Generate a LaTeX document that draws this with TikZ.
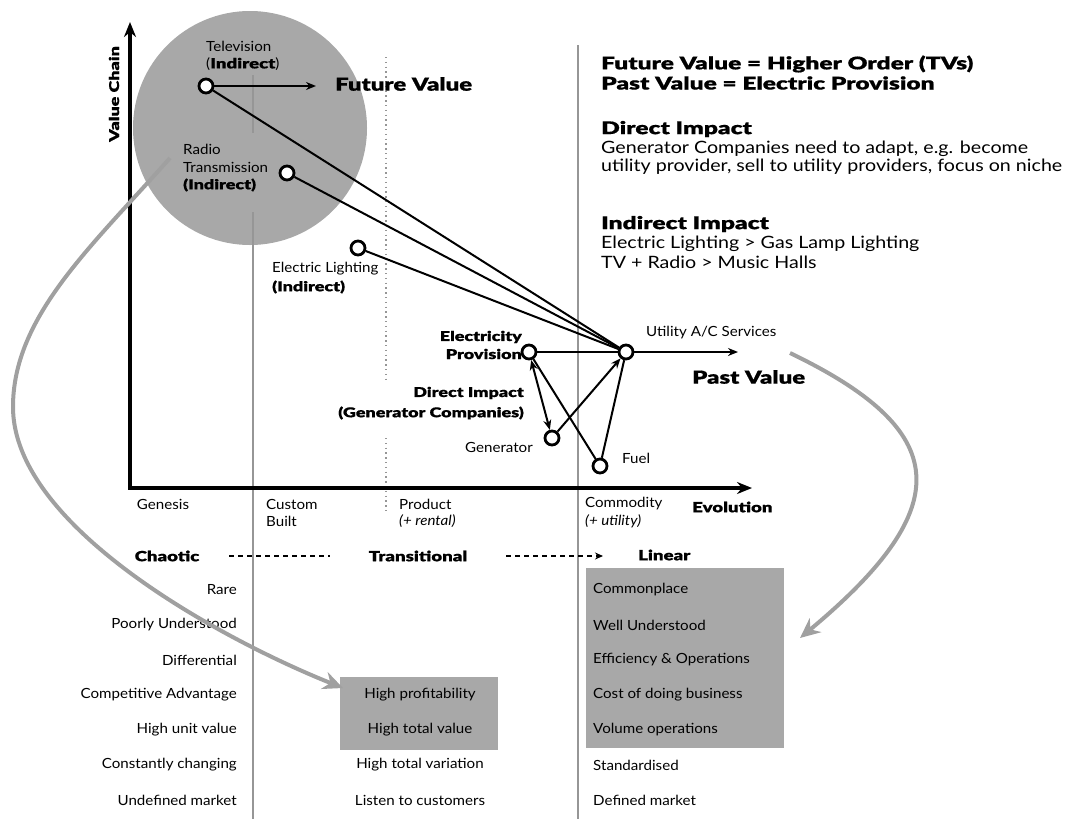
\documentclass[tikz,border=0pt]{standalone}
\usepackage{fontspec}
\setmainfont{Lato}[FakeStretch=1.08]
\newfontfamily\heavy{Lato Black}[FakeStretch=1.33,FakeBold=0.6]
\newfontfamily\rfont{Lato}[FakeStretch=1.155]
\newfontfamily\rheavy{Lato Black}[FakeStretch=1.4,FakeBold=0.6]
\usetikzlibrary{arrows.meta}
\definecolor{circgray}{RGB}{168,168,168}
\definecolor{linegray}{RGB}{150,150,150}
\definecolor{boxgray}{RGB}{168,168,168}
\definecolor{curvegray}{RGB}{160,160,160}
\begin{document}
\begin{tikzpicture}[x=1pt,y=-1pt,
  dot/.style={circle,draw=black,fill=white,line width=2.8pt,minimum size=14pt,inner sep=0pt},
  conn/.style={draw=black,line width=2pt},
  arr/.style={conn,-{Stealth[length=10pt,width=8pt]}},
  dbl/.style={conn,{Stealth[length=10pt,width=8pt]}-{Stealth[length=10pt,width=8pt]}},
  lbl/.style={inner sep=0pt,font=\fontsize{14}{16}\selectfont},
  blbl/.style={inner sep=0pt,font=\heavy\fontsize{13.5}{15}\selectfont},
  big/.style={inner sep=0pt,font=\heavy\fontsize{18}{20}\selectfont},
  row/.style={inner sep=0pt,font=\fontsize{14}{16}\selectfont},
  brow/.style={inner sep=0pt,font=\heavy\fontsize{14}{16}\selectfont},
  rtxt/.style={inner sep=0pt,anchor=west,font=\rfont\fontsize{17}{18}\selectfont},
  rhead/.style={inner sep=0pt,anchor=west,font=\rheavy\fontsize{17.5}{19}\selectfont},
  gline/.style={draw=linegray,line width=2pt},
  dotline/.style={draw=linegray,line width=1.3pt,dash pattern=on 1.3pt off 3.5pt},
  curve/.style={draw=curvegray,line width=4pt,-{Stealth[length=20pt,width=18pt]}},
  dashln/.style={draw=black,line width=1.6pt,dash pattern=on 5pt off 4pt}
]
\useasboundingbox (0,0) rectangle (1067,819);

% background circle
\fill[circgray] (250,128) circle[radius=117pt];

% vertical separators
\draw[gline] (253,75) -- (253,133);
\draw[gline] (253,212) -- (253,819);
\draw[gline] (578,45) -- (578,819);
\draw[dotline] (386,57) -- (386,380);
\draw[dotline] (386,438) -- (386,512);

% gray boxes
\fill[boxgray] (340,677) rectangle (498,750);
\fill[boxgray] (586,568) rectangle (784,748);

% axes
\coordinate (ytop) at (130,22);
\coordinate (orig) at (130,488);
\coordinate (xend) at (752,488);
\draw[line width=4pt,line join=miter,{Stealth[length=15pt,width=12pt]}-{Stealth[length=15pt,width=12pt]}] (ytop) -- (orig) -- (xend);
\node[blbl,rotate=90] (vc) at (114,94) {Value Chain};

% component nodes
\node[dot] (tv) at (206,86) {};
\node[dot] (radio) at (287,173) {};
\node[dot] (light) at (358,248) {};
\node[dot] (elec) at (529,352) {};
\node[dot] (util) at (626,352) {};
\node[dot] (gen) at (552,438) {};
\node[dot] (fuel) at (600,466) {};

% connectors
\draw[conn] (util) -- (tv);
\draw[conn] (util) -- (radio);
\draw[conn] (util) -- (light);
\draw[conn] (util) -- (elec);
\draw[conn] (elec) -- (fuel);
\draw[conn] (fuel) -- (util);
\draw[dbl] (elec) -- (gen);
\draw[arr] (gen) -- (util);
\coordinate (fvtip) at (316,86);
\draw[arr] (tv) -- (fvtip);
\coordinate (pvtip) at (738,352);
\draw[arr] (util) -- (pvtip);

% node labels
\node[lbl,anchor=west] (tvl1) at (206,46) {Television};
\node[lbl,anchor=west] (tvl2) at (206,64) {({\heavy Indirect})};
\node[big,anchor=west] (fv) at (335,84) {Future Value};
\node[lbl,anchor=west] (rl1) at (183,149) {Radio};
\node[lbl,anchor=west] (rl2) at (183,167) {Transmission};
\node[blbl,anchor=west] (rl3) at (183,185) {(Indirect)};
\node[lbl,anchor=west] (ll1) at (272,269) {Electric Lighting};
\node[blbl,anchor=west] (ll2) at (272,287) {(Indirect)};
\node[blbl,anchor=east] (el1) at (522,337) {Electricity};
\node[blbl,anchor=east] (el2) at (522,354) {Provision};
\node[blbl,anchor=east] (di1) at (524,393) {Direct Impact};
\node[blbl,anchor=east] (di2) at (524,413) {(Generator Companies)};
\node[lbl,anchor=east] (genl) at (533,447) {Generator};
\node[lbl,anchor=west] (fuell) at (622,458) {Fuel};
\node[lbl,anchor=west] (utill) at (646,333) {Utility A/C Services};
\node[big,anchor=west] (pv) at (692,377) {Past Value};

% evolution labels
\node[row] (gen1) at (163,504) {Genesis};
\node[row,anchor=west] (cb1) at (266,504) {Custom};
\node[row,anchor=west] (cb2) at (266,521) {Built};
\node[row,anchor=west] (pr1) at (399,504) {Product};
\node[row,anchor=west] (pr2) at (399,521) {\itshape (+ rental)};
\node[row,anchor=west] (co1) at (585,504) {Commodity};
\node[row,anchor=west] (co2) at (585,521) {\itshape (+ utility)};
\node[brow,anchor=west] (evo) at (692,507) {Evolution};

% phase row
\node[brow] (chaotic) at (167,556) {Chaotic};
\node[brow] (trans) at (418,556) {Transitional};
\node[brow,anchor=west] (linear) at (638,555) {Linear};
\coordinate (d1a) at (229,556); \coordinate (d1b) at (330,556);
\coordinate (d2a) at (506,556); \coordinate (d2b) at (603,556);
\draw[dashln] (d1a) -- (d1b);
\draw[dashln,-{Stealth[length=8pt,width=7pt]}] (d2a) -- (d2b);

% left column
\node[row,anchor=east] (a1) at (237,590) {Rare};
\node[row,anchor=east] (a2) at (237,625) {Poorly Understood};
\node[row,anchor=east] (a3) at (237,660) {Differential};
\node[row,anchor=east] (a4) at (237,695) {Competitive Advantage};
\node[row,anchor=east] (a5) at (237,730) {High unit value};
\node[row,anchor=east] (a6) at (237,765) {Constantly changing};
\node[row,anchor=east] (a7) at (237,800) {Undefined market};
% middle column
\node[row] (b4) at (420,695) {High profitability};
\node[row] (b5) at (420,730) {High total value};
\node[row] (b6) at (420,765) {High total variation};
\node[row] (b7) at (420,800) {Listen to customers};
% right column
\node[row,anchor=west] (c1) at (593,590) {Commonplace};
\node[row,anchor=west] (c2) at (593,625) {Well Understood};
\node[row,anchor=west] (c3) at (593,660) {Efficiency \& Operations};
\node[row,anchor=west] (c4) at (593,695) {Cost of doing business};
\node[row,anchor=west] (c5) at (593,730) {Volume operations};
\node[row,anchor=west] (c6) at (593,765) {Standardised};
\node[row,anchor=west] (c7) at (593,800) {Defined market};

% right text block
\node[rhead] (t1) at (601,64) {Future Value = Higher Order (TVs)};
\node[rhead] (t2) at (601,83) {Past Value = Electric Provision};
\node[rhead] (t3) at (601,129) {Direct Impact};
\node[rtxt] (t4) at (601,149) {Generator Companies need to adapt, e.g. become};
\node[rtxt] (t5) at (601,167) {utility provider, sell to utility providers, focus on niche};
\node[rhead] (t6) at (601,224) {Indirect Impact};
\node[rtxt] (t7) at (601,244) {Electric Lighting > Gas Lamp Lighting};
\node[rtxt] (t8) at (601,262) {TV + Radio > Music Halls};

% gray curved arrows
\coordinate (c1s) at (170,158);
\coordinate (c1m) at (13,407);
\coordinate (c1e) at (343,688);
\draw[curve] (c1s) .. controls (90,248) and (13,317) .. (c1m) .. controls (13,527) and (223,640) .. (c1e);
\coordinate (c2s) at (790,353);
\coordinate (c2e) at (800,638);
\draw[curve] (c2s) .. controls (950,430) and (960,505) .. (c2e);
\end{tikzpicture}
\end{document}
